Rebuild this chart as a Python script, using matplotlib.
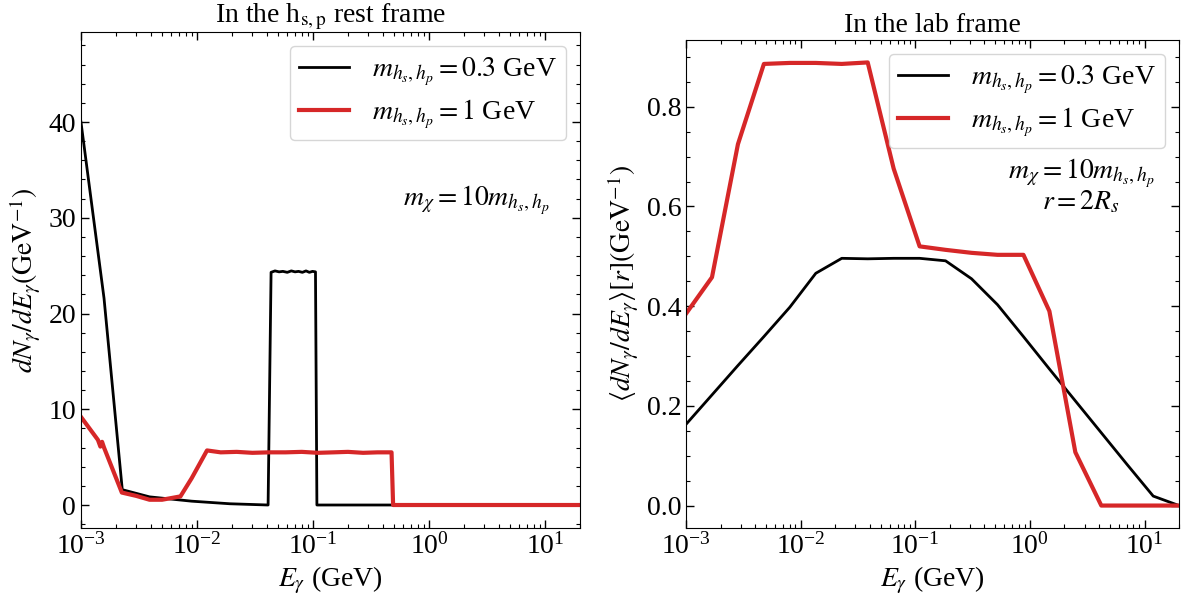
import numpy as np
import matplotlib
matplotlib.use('Agg')
import matplotlib.pyplot as plt
from matplotlib.ticker import MultipleLocator, LogLocator, NullFormatter

plt.rcParams['font.family'] = ['Liberation Serif', 'DejaVu Serif']
plt.rcParams['mathtext.fontset'] = 'stix'
plt.rcParams['font.size'] = 20

### rest-frame spectra (left panel)
E_rest_03 = [1e-3, 1.25e-3, 1.58e-3, 2.27e-3, 3.9e-3, 9e-3, 1.92e-2, 4.1e-2,
             0.0435, 0.047, 0.051, 0.055, 0.060, 0.065, 0.070, 0.075, 0.081,
             0.087, 0.093, 0.099, 0.105, 0.108, 20.0]
dN_rest_03 = [40.0, 31.0, 21.6, 1.6, 0.85, 0.4, 0.13, 0.0,
              24.3, 24.45, 24.35, 24.4, 24.3, 24.45, 24.35, 24.4, 24.3,
              24.45, 24.3, 24.4, 24.35, 0.0, 0.0]

E_rest_1 = [1e-3, 1.2e-3, 1.4e-3, 1.47e-3, 1.52e-3, 1.58e-3, 2.25e-3, 3.0e-3,
            3.9e-3, 5.0e-3, 7.2e-3, 9.0e-3, 1.22e-2, 0.016, 0.022, 0.03,
            0.042, 0.058, 0.08, 0.11, 0.15, 0.2, 0.27, 0.36, 0.475, 0.49, 20.0]
dN_rest_1 = [9.2, 7.9, 6.8, 6.1, 6.6, 6.0, 1.3, 0.95,
             0.55, 0.55, 0.9, 2.8, 5.7, 5.5, 5.55, 5.45,
             5.5, 5.5, 5.55, 5.45, 5.5, 5.55, 5.45, 5.5, 5.5, 0.0, 0.0]

### lab-frame averaged spectra (right panel)
E_lab = [0.001, 0.0016843, 0.0028369, 0.0047782, 0.008048, 0.013555,
         0.022831, 0.038455, 0.06477, 0.10909, 0.18375, 0.30949, 0.52128,
         0.878, 1.4788, 2.4908, 4.1953, 7.0662, 11.902, 20.0]
dN_lab_03 = [0.163, 0.222, 0.281, 0.339, 0.398, 0.466, 0.496, 0.495, 0.496,
             0.496, 0.491, 0.455, 0.403, 0.339, 0.274, 0.210, 0.146, 0.082,
             0.019, 0.0]
dN_lab_1 = [0.385, 0.458, 0.725, 0.886, 0.888, 0.888, 0.886, 0.889, 0.676,
            0.520, 0.513, 0.507, 0.503, 0.503, 0.390, 0.107, 0.0, 0.0, 0.0,
            0.0]

labels = [r'$m_{h_s,h_p} = 0.3$ GeV', r'$m_{h_s,h_p} = 1$ GeV']
red = '#d62728'

fig = plt.figure(figsize=(11.82, 5.97), dpi=100)
ax1 = fig.add_axes([0.0685, 0.1156, 0.4222, 0.8308])
ax2 = fig.add_axes([0.5804, 0.1156, 0.4171, 0.8174])


def style(ax):
    ax.set_xscale('log')
    ax.set_xlim(1e-3, 20)
    ax.xaxis.set_major_locator(LogLocator(base=10, numticks=10))
    ax.xaxis.set_minor_locator(LogLocator(base=10, subs=np.arange(2, 10), numticks=20))
    ax.xaxis.set_minor_formatter(NullFormatter())
    ax.tick_params(which='both', direction='in', top=True, right=True)
    ax.tick_params(which='major', length=6, width=1, labelsize=20)
    ax.tick_params(which='minor', length=3, width=0.8)
    ax.set_xlabel(r'$E_\gamma$ (GeV)', fontsize=20)


ax1.plot(E_rest_03, dN_rest_03, color='black', lw=2, label=labels[0])
ax1.plot(E_rest_1, dN_rest_1, color=red, lw=3, label=labels[1])
style(ax1)
ax1.set_ylim(-2.4, 49.4)
ax1.yaxis.set_major_locator(MultipleLocator(10))
ax1.yaxis.set_minor_locator(MultipleLocator(2))
ax1.set_ylabel(r'$dN_\gamma/dE_\gamma(\mathrm{GeV}^{-1})$', fontsize=20)
ax1.set_title(r'In the h$_{\rm s,p}$ rest frame', fontsize=20)
ax1.legend(loc='upper right', fontsize=20, handlelength=1.8,
           labelspacing=0.35, borderpad=0.35)
ax1.text(0.94, 0.66, r'$m_\chi = 10m_{h_s,h_p}$', transform=ax1.transAxes,
         ha='right', va='center', fontsize=20)

ax2.plot(E_lab, dN_lab_03, color='black', lw=2, label=labels[0])
ax2.plot(E_lab, dN_lab_1, color=red, lw=3, label=labels[1])
style(ax2)
ax2.set_ylim(-0.045, 0.934)
ax2.yaxis.set_major_locator(MultipleLocator(0.2))
ax2.yaxis.set_minor_locator(MultipleLocator(0.05))
ax2.set_ylabel(r'$\langle dN_\gamma/dE_\gamma\rangle[r](\mathrm{GeV}^{-1})$', fontsize=20)
ax2.set_title('In the lab frame', fontsize=20)
ax2.legend(loc='upper right', fontsize=20, handlelength=1.8,
           labelspacing=0.35, borderpad=0.35)
ax2.text(0.95, 0.70, r'$m_\chi = 10m_{h_s,h_p}$' + '\n' + r'$r = 2R_s$',
         transform=ax2.transAxes, ha='right', va='center', fontsize=20,
         multialignment='center', linespacing=0.95)

fig.savefig('out.png', dpi=100)
